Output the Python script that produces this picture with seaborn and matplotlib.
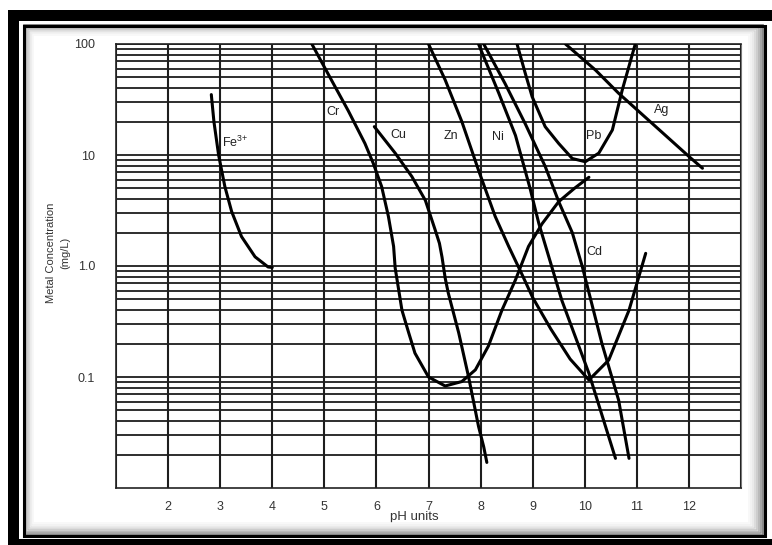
import seaborn as sns
import matplotlib.pyplot as plt
import matplotlib.patches as mpatches
from matplotlib.ticker import LogLocator, NullFormatter, FixedLocator
import pandas as pd

# values (pH, mg/L)
fe_ph = [2.83, 2.88, 2.97, 3.09, 3.22, 3.41, 3.67, 3.92, 4.0]
fe_conc = [35, 20, 10, 5.2, 3.1, 1.84, 1.21, 0.98, 0.97]

cr_ph = [4.76, 5.14, 5.46, 5.78, 5.94, 6.10, 6.23, 6.33, 6.36, 6.49, 6.62, 6.74,
         7.0, 7.32, 7.64, 7.90, 8.15, 8.41, 8.67, 8.92, 9.18, 9.5, 9.8, 10.08]
cr_conc = [100, 47, 25, 12.7, 8.4, 5.2, 2.8, 1.5, 0.96, 0.40, 0.25, 0.164,
           0.10, 0.083, 0.091, 0.116, 0.19, 0.40, 0.75, 1.5, 2.4, 3.8, 5.0, 6.3]

cu_ph = [5.96, 6.36, 6.68, 6.94, 7.13, 7.21, 7.26, 7.32, 7.38, 7.58, 7.77, 7.96, 8.06, 8.12]
cu_conc = [18, 10.4, 6.4, 3.9, 2.1, 1.6, 1.2, 0.78, 0.57, 0.25, 0.10, 0.036, 0.0235, 0.017]

zn_ph = [7.0, 7.32, 7.64, 7.96, 8.28, 8.54, 8.79, 9.0, 9.35, 9.72, 10.08, 10.46, 10.85, 11.17]
zn_conc = [100, 47.5, 20, 7.3, 2.8, 1.5, 0.85, 0.52, 0.27, 0.145, 0.094, 0.142, 0.40, 1.3]

ni_ph = [7.96, 8.35, 8.67, 8.95, 9.12, 9.56, 10.08, 10.59]
ni_conc = [100, 36, 15, 5.0, 2.4, 0.49, 0.108, 0.0185]

cd_ph = [8.06, 8.47, 8.86, 9.24, 9.5, 9.76, 9.95, 10.33, 10.65, 10.85]
cd_conc = [100, 44, 19, 7.9, 3.8, 2.0, 1.0, 0.20, 0.062, 0.0185]

pb_ph = [8.70, 8.86, 8.99, 9.24, 9.5, 9.76, 10.01, 10.27, 10.53, 10.72, 10.97]
pb_conc = [100, 54, 33.5, 18, 12.7, 9.3, 8.7, 10.4, 16.8, 38.5, 100]

ag_ph = [9.63, 10.21, 10.65, 12.0, 12.26]
ag_conc = [100, 58, 36, 9.7, 7.6]

label_text = ['Fe$^{3{+}}$', 'Cr', 'Cu', 'Zn', 'Ni', 'Pb', 'Ag', 'Cd']
label_ph = [3.04, 5.04, 6.27, 7.29, 8.21, 10.02, 11.33, 10.04]
label_conc = [13, 24.4, 15.1, 14.8, 14.6, 14.8, 25.4, 1.34]

y_ticks = [0.1, 1, 10, 100]
y_ticklabels = ['0.1', '1.0', '10', '100']
x_ticks = list(range(1, 14))
x_ticklabels = [''] + [str(i) for i in range(2, 13)] + ['']

series = {'Fe': (fe_ph, fe_conc), 'Cr': (cr_ph, cr_conc), 'Cu': (cu_ph, cu_conc),
          'Zn': (zn_ph, zn_conc), 'Ni': (ni_ph, ni_conc), 'Cd': (cd_ph, cd_conc),
          'Pb': (pb_ph, pb_conc), 'Ag': (ag_ph, ag_conc)}
rows = []
for metal, (xs, ys) in series.items():
    for i, (x, y) in enumerate(zip(xs, ys)):
        rows.append({'metal': metal, 'order': i, 'pH': x, 'conc': y})
df = pd.DataFrame(rows)

sns.set_style('white')
plt.rcParams['font.family'] = ['Liberation Sans', 'DejaVu Sans']
plt.rcParams['mathtext.fontset'] = 'custom'
plt.rcParams['mathtext.rm'] = 'Liberation Sans'
plt.rcParams['mathtext.it'] = 'Liberation Sans'

W, H = 772, 545
fig = plt.figure(figsize=(W / 100, H / 100), dpi=100)
ax = fig.add_axes([116 / W, 1 - 488 / H, 625 / W, 444 / H])

sns.lineplot(data=df, x='pH', y='conc', hue='metal', sort=False, estimator=None,
             palette={m: 'black' for m in series}, legend=False, lw=2.2, ax=ax, zorder=3)

ax.set_yscale('log')
ax.set_xlim(1, 13)
ax.set_ylim(0.01, 100)
ax.yaxis.set_major_locator(FixedLocator(y_ticks))
ax.set_yticklabels(y_ticklabels)
ax.yaxis.set_minor_locator(LogLocator(base=10, subs=range(2, 10)))
ax.yaxis.set_minor_formatter(NullFormatter())
ax.set_xticks(x_ticks)
ax.set_xticklabels(x_ticklabels)

ax.set_axisbelow(True)
ax.grid(which='both', axis='y', color='#1e1e1e', lw=1.3)
ax.grid(which='major', axis='x', color='#1e1e1e', lw=1.5)

ax.tick_params(axis='y', which='both', length=0, pad=15, labelsize=9, labelcolor='#333333')
ax.tick_params(axis='x', which='major', length=5, width=1, direction='out', pad=4,
               labelsize=9, labelcolor='#333333', color='#333333')
ax.set_xlabel('')
ax.set_ylabel('')
for side in ['left', 'bottom', 'top']:
    ax.spines[side].set_color('#222222')
    ax.spines[side].set_linewidth(1.2)
ax.spines['right'].set_color('#777777')
ax.spines['right'].set_linewidth(0.8)

for t, x, y in zip(label_text, label_ph, label_conc):
    ax.text(x, y, t, fontsize=9, color='#222222', ha='left', va='center', zorder=4)

ax.text(0.478, -0.066, 'pH units', transform=ax.transAxes, ha='center', va='center',
        fontsize=9.5, color='#333333')
ax.text(-0.093, 0.529, 'Metal Concentration\n(mg/L)', transform=ax.transAxes, rotation=90,
        ha='center', va='center', multialignment='center', linespacing=1.5,
        fontsize=8, color='#333333')


def box(x0, y0, x1, y1, **kw):
    fig.patches.append(mpatches.Rectangle((x0 / W, 1 - y1 / H), (x1 - x0) / W, (y1 - y0) / H,
                                          transform=fig.transFigure, **kw))


# scanned frame around the picture
box(8, 10, 772, 21, fc='black', ec='none')
box(8, 10, 19, 545, fc='black', ec='none')
box(8, 539, 772, 545, fc='black', ec='none')
shades = ['0.45', '0.58', '0.68', '0.77', '0.84', '0.9', '0.94', '0.97']
for i, g in enumerate(shades):
    d = 26 + i * 1.4
    box(d - 2.5, d - 1, 762.5 - i * 1.9, 535 - i * 1.7, fill=False, ec=g, lw=1.2)
box(23.5, 25.5, 764.5, 535.5, fill=False, ec='black', lw=2.2)

fig.savefig('out.png', dpi=100)
